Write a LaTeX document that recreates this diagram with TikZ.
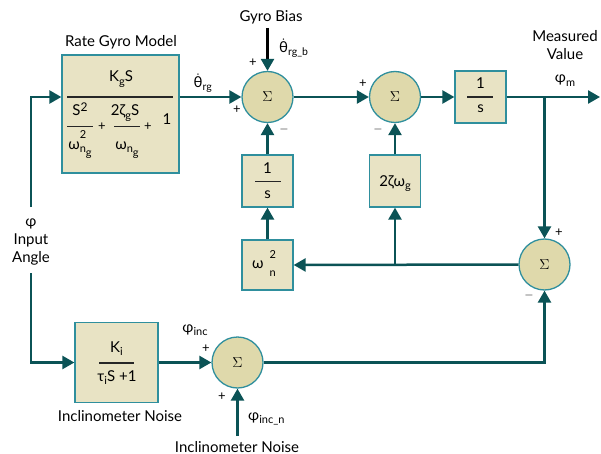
\documentclass[tikz,border=0pt]{standalone}
\usepackage{fontspec}
\usepackage{amsmath}
\setmainfont{Lato}
\usetikzlibrary{arrows.meta}
\definecolor{ln}{HTML}{0B5356}
\definecolor{bfill}{HTML}{E8E3C4}
\definecolor{sfill}{HTML}{DFD9AB}
\definecolor{bdr}{HTML}{2F8F9D}
\newcommand\T[1]{\text{#1}}
\newcommand\sm[1]{{\fontsize{11}{12}\selectfont #1}}
\newcommand\mylo[1]{\raisebox{-3.5pt}{\sm{#1}}}
\newcommand\wng{ω\raisebox{-3pt}{\sm{n\raisebox{-4pt}{g}}}}
\newcommand\wngsq{ω\rlap{\raisebox{11pt}{\sm{2}}}\raisebox{-3pt}{\sm{n\raisebox{-4pt}{g}}}}
\begin{document}
\begin{tikzpicture}[x=1pt,y=-1pt,
  txt/.style={font=\fontsize{15}{18}\selectfont, inner sep=0pt},
  sgn/.style={font=\fontsize{13}{14}\selectfont, inner sep=0pt},
  blk/.style={draw=bdr, line width=1.3pt, fill=bfill, inner sep=0pt},
  sumn/.style={circle, draw=bdr, line width=1.3pt, fill=sfill, minimum size=51pt, inner sep=0pt, font=\fontsize{14.5}{15}\selectfont},
  conn/.style={draw=ln, line width=2.5pt, -{Triangle[length=12pt,width=13pt]}},
  bar/.style={draw=black!85, line width=1.3pt},
  barthin/.style={draw=black!85, line width=1pt}
]
\useasboundingbox (0,0) rectangle (601,454);

% blocks
\node[blk, minimum width=117pt, minimum height=118pt] (gyro) at (120.5,114) {};
\node[blk, minimum width=51pt, minimum height=52pt] (intA) at (267.5,181) {};
\node[blk, minimum width=51pt, minimum height=50pt] (wn) at (267.5,265) {};
\node[blk, minimum width=51pt, minimum height=52pt] (zeta) at (395,181) {};
\node[blk, minimum width=51pt, minimum height=52pt] (intB) at (480.5,97) {};
\node[blk, minimum width=83pt, minimum height=80pt] (inc) at (116.5,362.5) {};
\node[sumn] (s1) at (267.5,97) {$\Sigma$};
\node[sumn] (s2) at (395,97) {$\Sigma$};
\node[sumn] (s3) at (544.5,264.5) {$\Sigma$};
\node[sumn] (s4) at (237.5,362.5) {$\Sigma$};

% free ends
\coordinate (inTop) at (31,207);
\coordinate (inBot) at (31,273);
\coordinate (bias) at (267.5,28);
\coordinate (out) at (600,97);
\coordinate (tap) at (544.5,97);
\coordinate (tapB) at (395,264.5);
\coordinate (noise) at (237.5,436);

% connectors
\draw[conn] (inTop) |- (gyro.west |- s1.west);
\draw[conn] (inBot) |- (inc.west);
\draw[conn] (gyro.east |- s1.west) -- (s1.west);
\draw[conn, draw=black, -{Triangle[length=12pt,width=13pt,color=ln]}] (bias) -- (s1.north);
\draw[conn] (intA.north) -- (s1.south);
\draw[conn] (wn.north) -- (intA.south);
\draw[conn] (s1.east) -- (s2.west);
\draw[conn] (zeta.north) -- (s2.south);
\draw[conn] (s2.east) -- (intB.west);
\draw[conn] (intB.east) -- (out);
\draw[conn] (tap) -- (s3.north);
\draw[conn] (s3.west) -- (wn.east);
\draw[conn] (tapB) -- (zeta.south);
\draw[conn] (inc.east) -- (s4.west);
\draw[conn] (s4.east) -| (s3.south);
\draw[conn] (noise) -- (s4.south);

% gyro block content
\node[txt, anchor=base] (gNum) at (121,82) {K\mylo{g}S};
\draw[bar] (67,97) -- (173,97);
\node[txt, anchor=base] (gS2) at (80,116) {S\raisebox{4.5pt}{\fontsize{12}{13}\selectfont 2}};
\draw[barthin] (67,127) -- (93,127);
\node[txt, anchor=base] (gW2) at (80,150) {\wngsq};
\node[sgn] (gP1) at (102,127) {+};
\node[txt, anchor=base] (g2z) at (125,116) {2ζ\mylo{g}S};
\draw[barthin] (114,127) -- (140,127);
\node[txt, anchor=base] (gW) at (127,150) {\wng};
\node[sgn] (gP2) at (148,127) {+};
\node[txt, anchor=base] (g1) at (167,125) {1};

% 1/s left
\node[txt, anchor=base] (aN) at (267.5,174) {1};
\draw[bar] (255,181.5) -- (281,181.5);
\node[txt, anchor=base] (aD) at (267.5,198) {s};

% omega_n^2
\node[txt, anchor=base west] (wnT) at (252,268) {ω\hspace{6pt}{\sm{\rlap{\raisebox{10pt}{2}}\raisebox{-8pt}{n}}}};

% 2 zeta omega_g
\node[txt, anchor=base] (zT) at (395,186) {2ζω\mylo{g}};

% 1/s right
\node[txt, anchor=base] (bN) at (480.5,89) {1};
\draw[bar] (467,97) -- (493,97);
\node[txt, anchor=base] (bD) at (480.5,113) {s};

% inclinometer content
\node[txt, anchor=base] (iN) at (116.5,352) {K\mylo{i}};
\draw[bar] (99,363) -- (134,363);
\node[txt, anchor=base] (iD) at (117,381) {τ\mylo{i}S +1};

% labels
\node[txt, anchor=base] (tRGM) at (121,47) {Rate Gyro Model};
\node[txt, anchor=base] (tGB) at (271,21.5) {Gyro Bias};
\node[txt, anchor=base west] (tThB) at (279,53) {$\dot{\T{θ}}_{\T{rg\_b}}$};
\node[sgn] (p1) at (253,63) {+};
\node[txt, anchor=base] (tThRG) at (203,88) {$\dot{\T{θ}}_{\T{rg}}$};
\node[sgn] (p2) at (237,110) {+};
\node[sgn] (m1) at (284,130) {$-$};
\node[sgn] (p3) at (363,84) {+};
\node[sgn] (m2) at (378,130) {$-$};
\node[txt, anchor=base] (tMeas) at (565,42) {Measured};
\node[txt, anchor=base] (tVal) at (565,60) {Value};
\node[txt, anchor=base] (tPhiM) at (565,83) {φ\mylo{m}};
\node[sgn] (p4) at (559,233) {+};
\node[sgn] (m3) at (529,295) {$-$};
\node[txt, anchor=base] (tPhi) at (31,226) {φ};
\node[txt, anchor=base] (tIn) at (31,244) {Input};
\node[txt, anchor=base] (tAng) at (31,262) {Angle};
\node[txt, anchor=base] (tPhiInc) at (195,332) {φ\mylo{inc}};
\node[sgn] (p5) at (206,349) {+};
\node[sgn] (p6) at (222,397) {+};
\node[txt, anchor=base] (tIncN) at (120,421) {Inclinometer Noise};
\node[txt, anchor=base west] (tPhiIncN) at (248,420) {φ\mylo{inc\_n}};
\node[txt, anchor=base] (tNoise) at (237,452) {Inclinometer Noise};
\end{tikzpicture}
\end{document}
